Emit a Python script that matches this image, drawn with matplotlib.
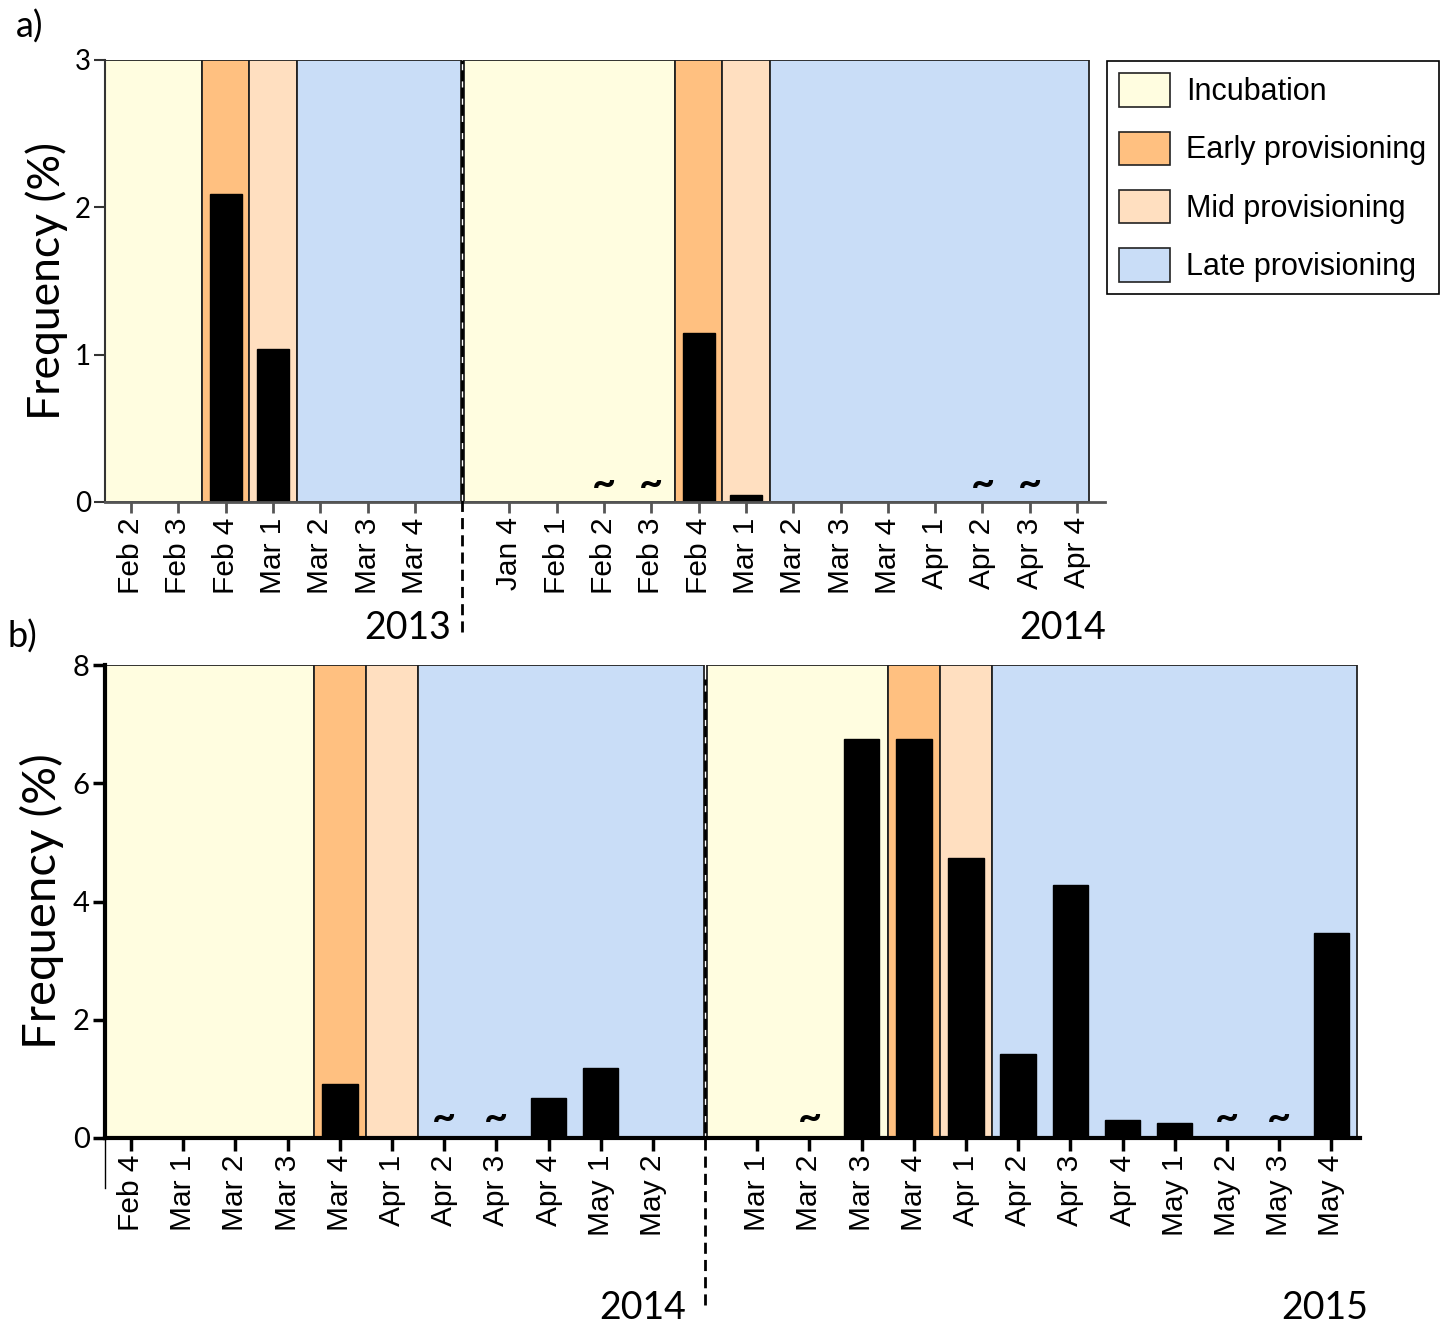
import matplotlib.pyplot as plt
from matplotlib.patches import Patch

# phase colours
phase_colors = {'inc': '#FFFDE0', 'early': '#FFC080', 'mid': '#FFDFC0', 'late': '#C9DDF7'}
phase_names = {'inc': 'Incubation', 'early': 'Early provisioning',
               'mid': 'Mid provisioning', 'late': 'Late provisioning'}

# panel a) data
a_2013_weeks = ['Feb 2', 'Feb 3', 'Feb 4', 'Mar 1', 'Mar 2', 'Mar 3', 'Mar 4']
a_2013_freq = [0, 0, 2.09, 1.04, 0, 0, 0]
a_2013_phase = ['inc', 'inc', 'early', 'mid', 'late', 'late', 'late']
a_2013_tilde = []

a_2014_weeks = ['Jan 4', 'Feb 1', 'Feb 2', 'Feb 3', 'Feb 4', 'Mar 1', 'Mar 2',
                'Mar 3', 'Mar 4', 'Apr 1', 'Apr 2', 'Apr 3', 'Apr 4']
a_2014_freq = [0, 0, 0, 0, 1.15, 0.05, 0, 0, 0, 0, 0, 0, 0]
a_2014_phase = ['inc', 'inc', 'inc', 'inc', 'early', 'mid',
                'late', 'late', 'late', 'late', 'late', 'late', 'late']
a_2014_tilde = ['Feb 2', 'Feb 3', 'Apr 2', 'Apr 3']

# panel b) data
b_2014_weeks = ['Feb 4', 'Mar 1', 'Mar 2', 'Mar 3', 'Mar 4', 'Apr 1', 'Apr 2',
                'Apr 3', 'Apr 4', 'May 1', 'May 2']
b_2014_freq = [0, 0, 0, 0, 0.92, 0, 0, 0, 0.67, 1.18, 0]
b_2014_phase = ['inc', 'inc', 'inc', 'inc', 'early', 'mid',
                'late', 'late', 'late', 'late', 'late']
b_2014_tilde = ['Apr 2', 'Apr 3']

b_2015_weeks = ['Mar 1', 'Mar 2', 'Mar 3', 'Mar 4', 'Apr 1', 'Apr 2', 'Apr 3',
                'Apr 4', 'May 1', 'May 2', 'May 3', 'May 4']
b_2015_freq = [0, 0, 6.75, 6.75, 4.74, 1.42, 4.28, 0.30, 0.25, 0, 0, 3.47]
b_2015_phase = ['inc', 'inc', 'inc', 'early', 'mid',
                'late', 'late', 'late', 'late', 'late', 'late', 'late']
b_2015_tilde = ['Mar 2', 'May 2', 'May 3']

CAL = ['Lato', 'DejaVu Sans']
ARI = ['Liberation Sans', 'DejaVu Sans']


def phase_groups(phases, offset):
    groups = []
    start = 0
    for i in range(1, len(phases) + 1):
        if i == len(phases) or phases[i] != phases[start]:
            groups.append([phases[start], offset + start - 0.5, offset + i - 1 + 0.5])
            start = i
    return groups


def draw_panel(ax, y1, y2, ymax, yticks, xleft, end_pad, tilde_y, heavy, dash_lims):
    weeks1, freq1, phase1, tilde1 = y1
    weeks2, freq2, phase2, tilde2 = y2
    n1 = len(weeks1)
    gap = n1
    pos1 = list(range(n1))
    pos2 = [gap + 1 + i for i in range(len(weeks2))]

    g1 = phase_groups(phase1, 0)
    g1[0][1] = xleft
    g1[-1][2] = gap - 0.03
    g2 = phase_groups(phase2, gap + 1)
    g2[0][1] = gap + 0.03
    g2[-1][2] = pos2[-1] + end_pad
    for ph, x0, x1 in g1 + g2:
        ax.axvspan(x0, x1, facecolor=phase_colors[ph], edgecolor='#222222',
                   lw=1.3, zorder=0)

    for pos, freq in [(pos1, freq1), (pos2, freq2)]:
        p = [x for x, v in zip(pos, freq) if v > 0]
        v = [v for v in freq if v > 0]
        ax.bar(p, v, width=0.68, color='black', edgecolor='black', lw=1, zorder=2)

    for pos, weeks, tilde in [(pos1, weeks1, tilde1), (pos2, weeks2, tilde2)]:
        for w in tilde:
            ax.text(pos[weeks.index(w)], tilde_y, '~', ha='center', va='center',
                    fontsize=30, fontweight='bold', family=CAL, zorder=3)

    ax.axvline(gap, ymin=dash_lims[0], ymax=dash_lims[1], clip_on=False,
               color='black', lw=2, dashes=(4, 2.2), zorder=4)

    ax.set_xticks(pos1 + pos2)
    ax.set_xticklabels(weeks1 + weeks2, rotation=90, fontsize=21.5, family=ARI)
    ax.set_xlim(xleft, None)
    ax.set_ylim(0, ymax)
    ax.set_yticks(yticks)
    for lab in ax.get_yticklabels():
        lab.set_family(CAL)
    ax.spines['top'].set_visible(False)
    ax.spines['right'].set_visible(False)
    if heavy:
        ax.spines['left'].set_linewidth(3)
        ax.spines['bottom'].set_linewidth(3)
        ax.spines['left'].set_color('black')
        ax.spines['bottom'].set_color('black')
        ax.tick_params(axis='y', labelsize=21, length=9, width=2.5, pad=2)
        ax.tick_params(axis='x', length=9, width=2.5, pad=3)
    else:
        ax.spines['left'].set_linewidth(1.5)
        ax.spines['bottom'].set_linewidth(2)
        ax.spines['left'].set_color('#333333')
        ax.spines['bottom'].set_color('#555555')
        ax.tick_params(axis='y', labelsize=20, length=8, width=1.5, pad=2,
                       color='#333333')
        ax.tick_params(axis='x', length=8, width=2, pad=3, color='#555555')
    ax.set_facecolor('white')


fig = plt.figure(figsize=(14.43, 13.27), dpi=100)
W, H = 1443, 1327

ax_a = fig.add_axes([105 / W, 1 - 502 / H, 1000 / W, 442 / H])
draw_panel(ax_a,
           (a_2013_weeks, a_2013_freq, a_2013_phase, a_2013_tilde),
           (a_2014_weeks, a_2014_freq, a_2014_phase, a_2014_tilde),
           3, [0, 1, 2, 3], -0.55, 0.25, 0.12, False, (-0.294, 1.0))
ax_a.set_xlim(-0.55, 20.59)
ax_a.set_ylabel('Frequency (%)', fontsize=32, family=CAL)
ax_a.yaxis.set_label_coords(-0.037, 0.5)

ax_b = fig.add_axes([105 / W, 1 - 1138 / H, 1255 / W, 473 / H])
draw_panel(ax_b,
           (b_2014_weeks, b_2014_freq, b_2014_phase, b_2014_tilde),
           (b_2015_weeks, b_2015_freq, b_2015_phase, b_2015_tilde),
           8, [0, 2, 4, 6, 8], -0.5, 0.5, 0.34, True, (-0.353, 0.97))
ax_b.set_xlim(-0.5, 23.55)
ax_b.set_ylabel('Frequency (%)', fontsize=34, family=CAL)
ax_b.yaxis.set_label_coords(-0.033, 0.5)
# thin extension of the y axis below zero
ax_b.plot([-0.5, -0.5], [0, -0.85], color='black', lw=1, clip_on=False)

# year labels and panel letters
fig.text(408 / W, 1 - 628 / H, '2013', ha='center', va='center', fontsize=27, family=CAL)
fig.text(1063 / W, 1 - 628 / H, '2014', ha='center', va='center', fontsize=27, family=CAL)
fig.text(643 / W, 1 - 1308 / H, '2014', ha='center', va='center', fontsize=27, family=CAL)
fig.text(1325 / W, 1 - 1308 / H, '2015', ha='center', va='center', fontsize=27, family=CAL)
fig.text(30 / W, 1 - 27 / H, 'a)', ha='center', va='center', fontsize=26, family=CAL)
fig.text(22 / W, 1 - 637 / H, 'b)', ha='center', va='center', fontsize=26, family=CAL)

handles = [Patch(facecolor=phase_colors[k], edgecolor='#222222', lw=1.2, label=phase_names[k])
           for k in ['inc', 'early', 'mid', 'late']]
leg = fig.legend(handles=handles, loc='upper left',
                 bbox_to_anchor=(1107 / W, 1 - 61 / H),
                 prop={'family': ARI, 'size': 22},
                 handlelength=1.65, handleheight=1.3, handletextpad=0.55,
                 labelspacing=0.8, borderpad=0.4, borderaxespad=0,
                 fancybox=False, framealpha=1)
leg.get_frame().set_edgecolor('black')
leg.get_frame().set_linewidth(1.2)

fig.savefig('out.png', dpi=100)
plt.close()
